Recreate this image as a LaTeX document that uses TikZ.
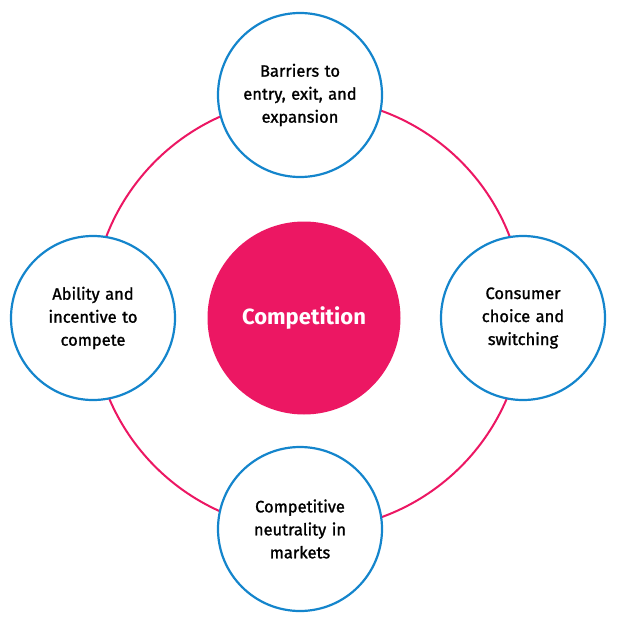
\documentclass[tikz,border=0pt]{standalone}
\usepackage{fontspec}
\setmainfont{Fira Sans}
\newfontfamily\medfont{Fira Sans}[FakeBold=1.3]
\definecolor{pinkc}{HTML}{EC1763}
\definecolor{bluec}{HTML}{1485CC}
\begin{document}
\begin{tikzpicture}[x=1pt,y=-1pt,
  outer/.style={circle,draw=bluec,line width=2.2pt,fill=white,minimum size=164pt,align=center,font=\medfont\fontsize{16.5}{23}\selectfont,text width=130pt}]
\useasboundingbox (0,0) rectangle (617,626);
\draw[pinkc,line width=2pt] (308,314) circle (216);
\node[circle,fill=pinkc,minimum size=193pt,text=white,font=\fontsize{22}{26}\selectfont\bfseries] (c) at (304,318) {Competition};
\node[outer] (t) at (300,95) {Barriers to\\entry, exit, and\\expansion};
\node[outer] (l) at (93,318) {Ability and\\incentive to\\compete};
\node[outer] (r) at (523,318) {Consumer\\choice and\\switching};
\node[outer] (b) at (300,529) {Competitive\\neutrality in\\markets};
\end{tikzpicture}
\end{document}
